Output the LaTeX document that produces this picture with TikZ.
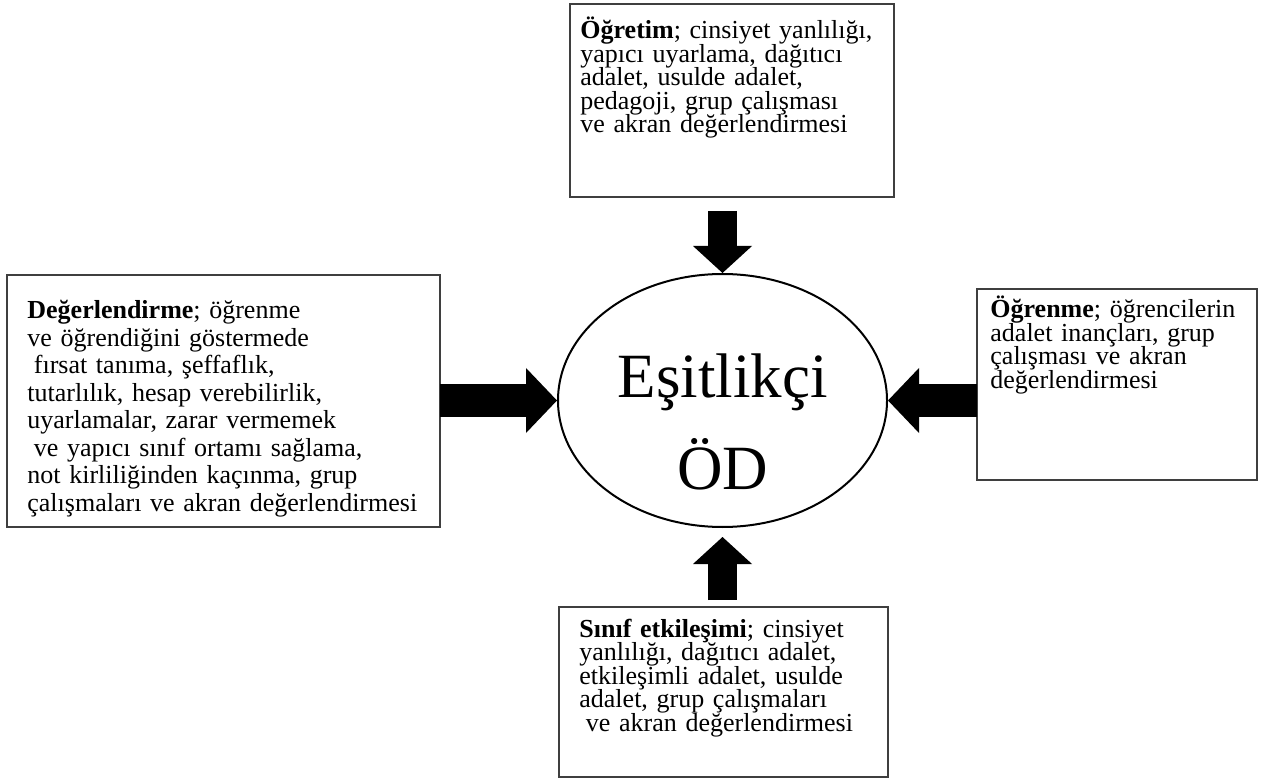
\documentclass[tikz,border=0pt]{standalone}
\usepackage{fontspec}
\setmainfont{Liberation Serif}
\usepackage{xcolor}
\usepackage{tikz}
\usetikzlibrary{calc}
\usetikzlibrary {arrows.meta}
\usetikzlibrary {shapes.geometric}
\definecolor{C7}{HTML}{3f3f3f}

\begin{document}
\begin{tikzpicture}[x=0.5pt, y=-0.5pt,
  kutu/.style={draw=C7, line width=0.75pt, inner sep=0pt, outer sep=0pt, anchor=north west},
  metin/.style={anchor=base west, inner sep=0pt, align=left, text width=#1,
    font=\fontsize{13pt}{11.75pt}\selectfont\lineskiplimit-20pt\relax},
  blok/.style={line width=14.5pt, -{Triangle[length=13.5pt, width=29.5pt, line width=0pt]}},
  yatay/.style={line width=16pt, -{Triangle[length=15.5pt, width=32.5pt, line width=0pt]}}]
\useasboundingbox (0,0) rectangle (1268,780);
%
\node[kutu, minimum width=162pt, minimum height=96.5pt] (ogretim) at (570,4) {};
\node[kutu, minimum width=216.5pt, minimum height=126pt] (degerlendirme) at (7,275) {};
\node[kutu, minimum width=140pt, minimum height=95.5pt] (ogrenme) at (977,289) {};
\node[kutu, minimum width=164.5pt, minimum height=85pt] (sinif) at (559,607) {};
%
\node[metin=200pt] (ogretim metin) at ($(ogretim.north west)+(10,35)$)
  {\textbf{Öğretim}; cinsiyet yanlılığı,\\ yapıcı uyarlama, dağıtıcı\\ adalet, usulde adalet,\\
   pedagoji, grup çalışması\\ ve akran değerlendirmesi};
\node[metin=230pt, font=\fontsize{13pt}{13.75pt}\selectfont\lineskiplimit-20pt\relax] (degerlendirme metin)
  at ($(degerlendirme.north west)+(20,44)$)
  {\textbf{Değerlendirme}; öğrenme\\ ve öğrendiğini göstermede\\ \hspace*{.25em}fırsat tanıma, şeffaflık,\\
   tutarlılık, hesap verebilirlik,\\ uyarlamalar, zarar vermemek\\ \hspace*{.25em}ve yapıcı sınıf ortamı sağlama,\\
   not kirliliğinden kaçınma, grup\\ çalışmaları ve akran değerlendirmesi};
\node[metin=200pt] (ogrenme metin) at ($(ogrenme.north west)+(13,29)$)
  {\textbf{Öğrenme}; öğrencilerin\\ adalet inançları, grup\\ çalışması ve akran\\ değerlendirmesi};
\node[metin=200pt] (sinif metin) at ($(sinif.north west)+(20,30)$)
  {\textbf{Sınıf etkileşimi}; cinsiyet\\ yanlılığı, dağıtıcı adalet,\\ etkileşimli adalet, usulde\\
   adalet, grup çalışmaları\\ \hspace*{.25em}ve akran değerlendirmesi};
%
\node[draw, ellipse, line width=1pt, minimum width=164.5pt, minimum height=126.5pt, inner sep=0pt]
  (od) at (722.5,400.5) {};
\node[align=center, inner sep=0pt, font=\fontsize{31.5pt}{46pt}\selectfont] (od metin)
  at ($(od.center)+(0,21)$) {Eşitlikçi\\ÖD};
%
\draw[blok] ($(od.north)+(0,-62)$) -- (od.north);
\draw[blok] ($(od.south)+(0,72)$) -- ($(od.south)+(0,9)$);
\draw[yatay] (degerlendirme.east |- od.west) -- (od.west);
\draw[yatay] (ogrenme.west |- od.east) -- (od.east);
\end{tikzpicture}
\end{document}
